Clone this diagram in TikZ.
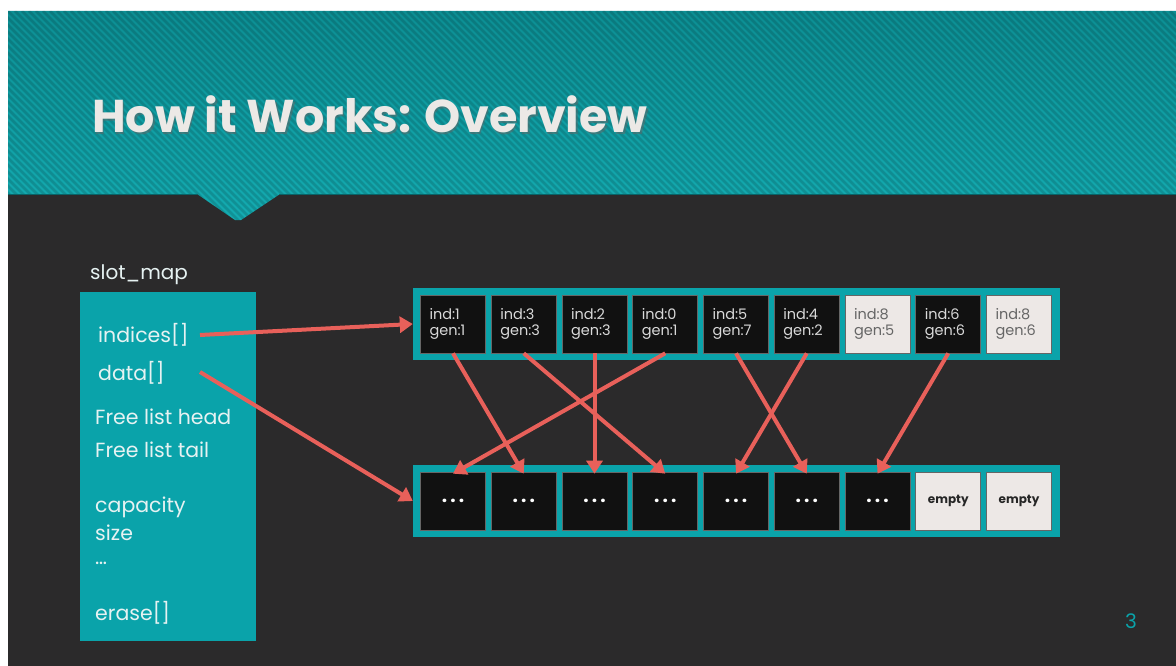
\documentclass[tikz,border=0pt]{standalone}
\usepackage{fontspec}
\setmainfont{Poppins}
\usetikzlibrary{arrows.meta,calc}
\definecolor{bg}{HTML}{2B2A2B}
\definecolor{tealdark}{HTML}{0C8E93}
\definecolor{teallight}{HTML}{14ABB1}
\definecolor{boxteal}{HTML}{0AA3AA}
\definecolor{arr}{HTML}{E8605A}
\definecolor{cellblk}{HTML}{111111}
\definecolor{celllt}{HTML}{EDE8E6}
\definecolor{txtlt}{HTML}{E6F2F2}
\definecolor{titlec}{HTML}{ECE9E6}
\begin{document}
\begin{tikzpicture}[x=1pt,y=-1pt,
  frame/.style={draw=none,fill=boxteal,inner sep=0,minimum width=647,minimum height=72},
  dcell/.style={draw=black!60,line width=0.6,fill=cellblk,inner sep=0,minimum width=65,minimum height=58,
     text width=47,align=left,text=black!15,font=\fontsize{14.5}{16.5}\selectfont},
  lcell/.style={dcell,fill=celllt,text=black!60},
  dotcell/.style={draw=black!60,line width=0.6,fill=cellblk,inner sep=0,minimum width=65,minimum height=58,
     text=white,font=\fontsize{19}{20}\selectfont\bfseries},
  emptycell/.style={dotcell,fill=celllt,text=black!85,font=\fontsize{12}{14}\selectfont\bfseries},
  lefttxt/.style={anchor=west,inner sep=0,text=txtlt,font=\fontsize{20.5}{23}\selectfont},
  redarr/.style={draw=arr,line width=4,-{Triangle[length=13,width=16]}}
]
\useasboundingbox (0,0) rectangle (1176,666);
\fill[white] (0,0) rectangle (1176,666);
\fill[bg] (8,11) rectangle (1176,666);
% header
\begin{scope}
\clip (8,11) -- (1176,11) -- (1176,194) -- (280,194) -- (241,220) -- (235,220) -- (197,194) -- (8,194) -- cycle;
\shade[top color=tealdark, bottom color=teallight] (8,11) rectangle (1176,222);
\foreach \i in {-300,-293,...,1176} \draw[black, opacity=0.14, line width=2.6] (\i,11) -- ++(230,230);
\end{scope}
\draw[tealdark!70!black,line width=1] (8,194.5) -- (197,194.5);
\draw[tealdark!70!black,line width=1] (280,194.5) -- (1176,194.5);
% title
\node[anchor=base west,inner sep=0,text=black!60,opacity=0.5,font=\fontsize{46}{52}\selectfont\bfseries] at (93.5,134.5) {How it Works: Overview};
\node (title)[anchor=base west,inner sep=0,text=titlec,font=\fontsize{46}{52}\selectfont\bfseries] at (92,133) {How it Works: Overview};
% slot map
\node (slabel)[anchor=base west,inner sep=0,text=txtlt,font=\fontsize{20}{22}\selectfont] at (90,279) {slot\_map};
\node (slot)[fill=boxteal,inner sep=0,minimum width=176,minimum height=349] at (168,466.5) {};
\node (indices)[lefttxt] at (98,335) {indices[]};
\node (data)[lefttxt] at (98,373) {data[]};
\node (fhead)[lefttxt] at (95,417) {Free list head};
\node (ftail)[lefttxt] at (95,450) {Free list tail};
\node (cap)[lefttxt] at (95,507) {capacity};
\node (size)[lefttxt] at (95,533) {size};
\node (dots)[lefttxt] at (95,563) {\dots};
\node (erase)[lefttxt] at (95,613) {erase[]};
\coordinate (indstart) at (200,335);
\coordinate (datstart) at (200,372);
% arrays
\node (idx)[frame] at (736.5,324) {};
\node (dat)[frame] at (736.5,501) {};
\node (t0)[dcell] at (453,324) {ind:1\\gen:1};
\node (t1)[dcell] at (523.75,324) {ind:3\\gen:3};
\node (t2)[dcell] at (594.5,324) {ind:2\\gen:3};
\node (t3)[dcell] at (665.25,324) {ind:0\\gen:1};
\node (t4)[dcell] at (736,324) {ind:5\\gen:7};
\node (t5)[dcell] at (806.75,324) {ind:4\\gen:2};
\node (t6)[lcell] at (877.5,324) {ind:8\\gen:5};
\node (t7)[dcell] at (948.25,324) {ind:6\\gen:6};
\node (t8)[lcell] at (1019,324) {ind:8\\gen:6};
\node (b0)[dotcell] at (453,501) {.\,.\,.};
\node (b1)[dotcell] at (523.75,501) {.\,.\,.};
\node (b2)[dotcell] at (594.5,501) {.\,.\,.};
\node (b3)[dotcell] at (665.25,501) {.\,.\,.};
\node (b4)[dotcell] at (736,501) {.\,.\,.};
\node (b5)[dotcell] at (806.75,501) {.\,.\,.};
\node (b6)[dotcell] at (877.5,501) {.\,.\,.};
\node (b7)[emptycell] at (948.25,501) {empty};
\node (b8)[emptycell] at (1019,501) {empty};
% arrows
\draw[redarr] (indstart) -- (idx.west);
\draw[redarr] (datstart) -- (dat.west);
\draw[redarr] (t0.south) -- ([yshift=-2]b1.north);
\draw[redarr] (t1.south) -- ([yshift=-2]b3.north);
\draw[redarr] (t2.south) -- ([yshift=-2]b2.north);
\draw[redarr] (t3.south) -- ([yshift=-2]b0.north);
\draw[redarr] (t4.south) -- ([yshift=-2]b5.north);
\draw[redarr] (t5.south) -- ([yshift=-2]b4.north);
\draw[redarr] (t7.south) -- ([yshift=-2]b6.north);
% page number
\node (pnum)[text=boxteal,inner sep=0,font=\fontsize{20}{22}\selectfont] at (1131,621) {3};
\end{tikzpicture}
\end{document}
